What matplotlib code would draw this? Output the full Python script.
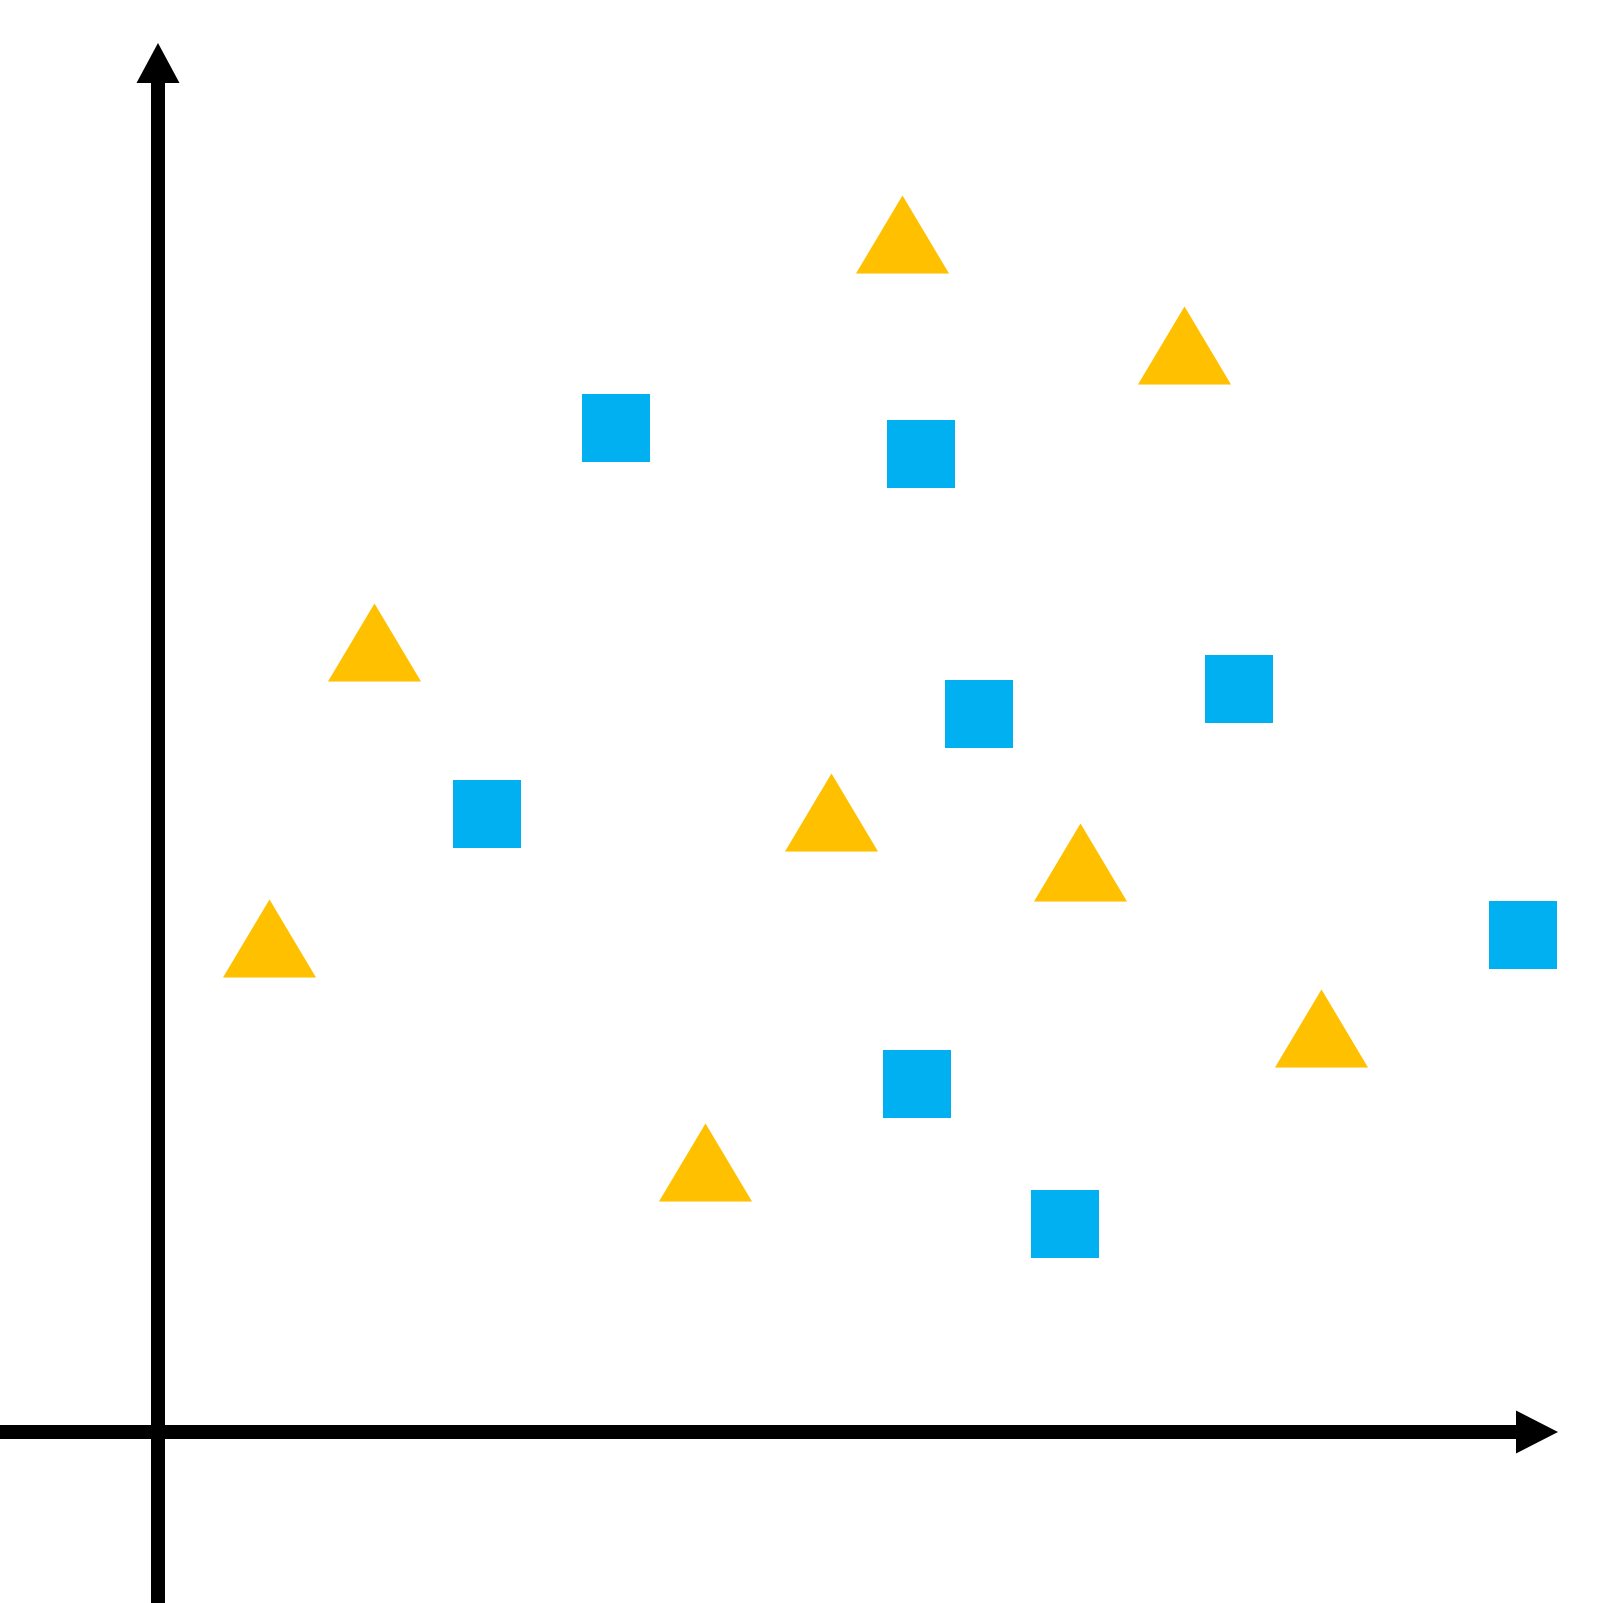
import matplotlib
matplotlib.use("Agg")
import matplotlib.pyplot as plt
from matplotlib.patches import FancyArrow

# Data (arbitrary units, origin at the axes crossing)
tri_x = [7.44, 10.26, 2.16, 6.73, 9.22, 1.11, 11.63, 5.47]
tri_y = [11.98, 10.87, 7.90, 6.20, 5.70, 4.94, 4.04, 2.70]
sq_x = [4.58, 7.63, 8.21, 10.81, 3.29, 13.65, 7.59, 9.07]
sq_y = [10.04, 9.78, 7.18, 7.43, 6.18, 4.97, 3.48, 2.08]

x_min, x_max = -1.58, 14.44
y_min, y_max = -1.71, 14.32

fig = plt.figure(figsize=(16.02, 16.03), dpi=100)
ax = fig.add_axes([0, 0, 1, 1])
ax.set_xlim(x_min, x_max)
ax.set_ylim(y_min, y_max)
ax.axis('off')

# axes with arrow heads
ax.add_patch(FancyArrow(x_min, 0, 14.00 - x_min, 0, width=0.14, head_width=0.43,
                        head_length=0.42, length_includes_head=True,
                        color='black', lw=0))
ax.add_patch(FancyArrow(0, y_min, 0, 13.89 - y_min, width=0.14, head_width=0.43,
                        head_length=0.40, length_includes_head=True,
                        color='black', lw=0))

# equilateral-ish triangle marker
tri_marker = [(-1, -0.839), (1, -0.839), (0, 0.839)]
ax.plot(tri_x, tri_y, linestyle='none', marker=tri_marker, markersize=67,
        markerfacecolor='#FFC000', markeredgewidth=0)
ax.plot(sq_x, sq_y, linestyle='none', marker='s', markersize=49.5,
        markerfacecolor='#00B0F0', markeredgewidth=0)

fig.savefig('out.png', dpi=100)
